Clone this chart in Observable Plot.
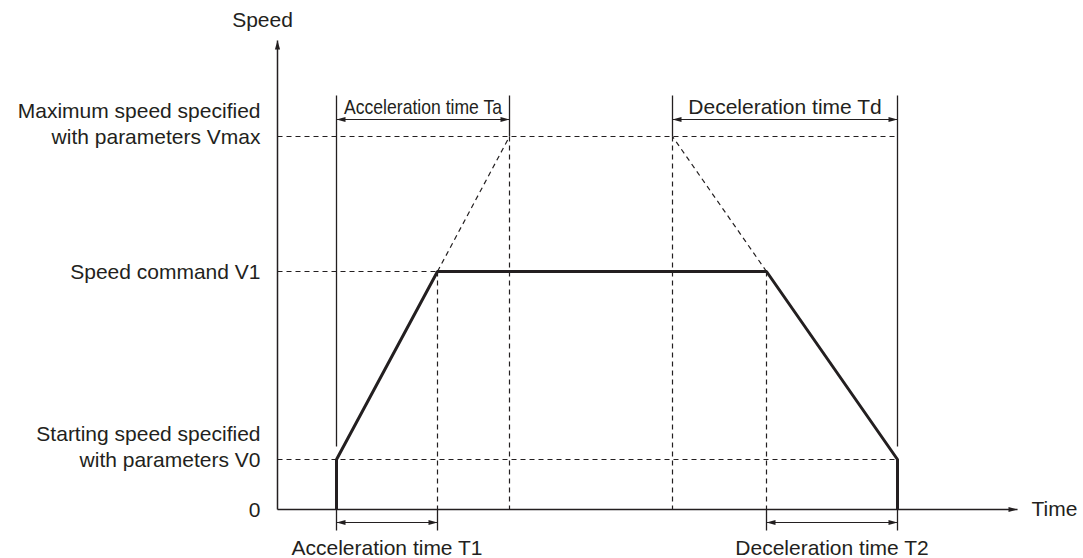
<!DOCTYPE html>
<html><head><meta charset="utf-8">
<script src="https://cdn.jsdelivr.net/npm/d3@7"></script>
<script src="https://cdn.jsdelivr.net/npm/@observablehq/plot@0.6"></script>
<style>html,body{margin:0;padding:0;background:#fff;}</style>
</head><body><div id="chart"></div>
<script>
// ---- data ----
// time instants (arbitrary units)
const timeNames  = ["start", "T1 end", "Ta end", "Td start", "decel start", "stop"];
const timeValues = [5.9, 16.0, 23.2, 39.5, 48.9, 62.0];
const timeAxisEnd = 74.0;
// speed levels
const speedNames  = ["0", "V0", "V1", "Vmax"];
const speedValues = [0, 5.0, 23.8, 37.3];
const speedLabels = [
  "0",
  "Starting speed specified\nwith parameters V0",
  "Speed command V1",
  "Maximum speed specified\nwith parameters Vmax"
];
const speedAxisTop = 46.9;
// speed profile vertices
const [tStart, tT1, tTa, tTd, tDec, tEnd] = timeValues;
const [vZero, v0, v1, vMax] = speedValues;
const profileTime  = [tStart, tStart, tT1, tDec, tEnd, tEnd];
const profileSpeed = [vZero, v0, v1, v1, v0, vZero];
// time spans
const spanLabels = ["Acceleration time Ta", "Deceleration time Td", "Acceleration time T1", "Deceleration time T2"];
const spanFrom   = [tStart, tTd, tStart, tDec];
const spanTo     = [tTa, tEnd, tT1, tEnd];
const spanSide   = ["top", "top", "bottom", "bottom"];
const axisTitles = ["Speed", "Time"];

// ---- layout helpers ----
const C = "#231f20";
const FONT = "'Liberation Sans', Arial, Helvetica, sans-serif";
const topBracket = 39.0, topLineHi = 41.4, topText = 40.2;
const botBracket = -1.3, botTick = -2.1, botText = -3.9;
const thinLow = 6.3;

const profile = profileTime.map((t, i) => ({t, v: profileSpeed[i]}));

const dashed = [
  {x1: 0, y1: vMax, x2: tEnd, y2: vMax},
  {x1: 0, y1: v1, x2: tT1, y2: v1},
  {x1: 0, y1: v0, x2: tEnd, y2: v0},
  {x1: tT1, y1: v1, x2: tT1, y2: 0},
  {x1: tTa, y1: vMax, x2: tTa, y2: 0},
  {x1: tTd, y1: vMax, x2: tTd, y2: 0},
  {x1: tDec, y1: v1, x2: tDec, y2: 0},
  {x1: tT1, y1: v1, x2: tTa, y2: vMax},
  {x1: tDec, y1: v1, x2: tTd, y2: vMax}
];

const solid = [
  {x1: tStart, y1: topLineHi, x2: tStart, y2: thinLow},
  {x1: tEnd, y1: topLineHi, x2: tEnd, y2: thinLow},
  {x1: tTa, y1: topLineHi, x2: tTa, y2: vMax},
  {x1: tTd, y1: topLineHi, x2: tTd, y2: vMax},
  {x1: tStart, y1: 0, x2: tStart, y2: botTick},
  {x1: tT1, y1: 0, x2: tT1, y2: botTick},
  {x1: tDec, y1: 0, x2: tDec, y2: botTick},
  {x1: tEnd, y1: 0, x2: tEnd, y2: botTick}
];

const spans = spanLabels.map((label, i) => ({
  label, from: spanFrom[i], to: spanTo[i],
  y: spanSide[i] === "top" ? topBracket : botBracket,
  ty: spanSide[i] === "top" ? topText : botText,
  mid: (spanFrom[i] + spanTo[i]) / 2,
  narrow: i === 0
}));

const heads = [];
for (const s of spans) {
  heads.push({x: s.to, y: s.y, rotate: 0});
  heads.push({x: s.from, y: s.y, rotate: 180});
}
heads.push({x: timeAxisEnd, y: 0, rotate: 0});
heads.push({x: 0, y: speedAxisTop, rotate: -90});

const arrowHead = {
  draw(ctx) {
    ctx.moveTo(0, 0);
    ctx.lineTo(-9, -2.6);
    ctx.lineTo(-9, 2.6);
    ctx.closePath();
  }
};

const levels = speedValues.map((v, i) => ({v, txt: speedLabels[i]}));

const chart = Plot.plot({
  width: 1083, height: 558,
  marginLeft: 277, marginRight: 66, marginTop: 40, marginBottom: 0,
  x: {domain: [0, timeAxisEnd], axis: null},
  y: {domain: [-4.9, speedAxisTop], axis: null},
  style: {fontFamily: FONT, color: C, background: "white", overflow: "visible"},
  marks: [
    Plot.link(dashed, {x1: "x1", y1: "y1", x2: "x2", y2: "y2", stroke: C, strokeWidth: 1.2, strokeDasharray: "5,4"}),
    Plot.link(solid, {x1: "x1", y1: "y1", x2: "x2", y2: "y2", stroke: C, strokeWidth: 1.3}),
    Plot.link(spans, {x1: "from", x2: "to", y1: "y", y2: "y", stroke: C, strokeWidth: 1.2}),
    Plot.link([0], {x1: 0, x2: timeAxisEnd, y1: 0, y2: 0, stroke: C, strokeWidth: 1.5}),
    Plot.link([0], {x1: 0, x2: 0, y1: 0, y2: speedAxisTop, stroke: C, strokeWidth: 1.5}),
    Plot.dot(heads, {x: "x", y: "y", rotate: "rotate", symbol: arrowHead, fill: C, stroke: "none"}),
    Plot.line(profile, {x: "t", y: "v", stroke: C, strokeWidth: 3, strokeLinejoin: "miter", strokeLinecap: "butt"}),
    // level labels (last line centred on its level)
    Plot.text(levels, {x: 0, y: "v", text: "txt", dx: -17, dy: 7, textAnchor: "end", lineAnchor: "bottom",
      lineHeight: 26 / 21, fontSize: 21, fill: C}),
    // span labels
    Plot.text(spans, {x: "mid", y: "ty", text: "label", fontSize: 21, fill: C,
      className: "spanlabel"}),
    // axis titles
    Plot.text([axisTitles[0]], {x: 0, y: speedAxisTop, dx: -15, dy: -20, text: d => d, fontSize: 21, fill: C}),
    Plot.text([axisTitles[1]], {x: timeAxisEnd, y: 0, dx: 14, text: d => d, textAnchor: "start", fontSize: 21, fill: C})
  ]
});
// the "Acceleration time Ta" label is set in a condensed face in the original
d3.select(chart).selectAll("text").filter(function () { return this.textContent === spanLabels[0]; })
  .attr("textLength", 158).attr("lengthAdjust", "spacingAndGlyphs");
document.getElementById("chart").append(chart);
</script>
</body></html>
